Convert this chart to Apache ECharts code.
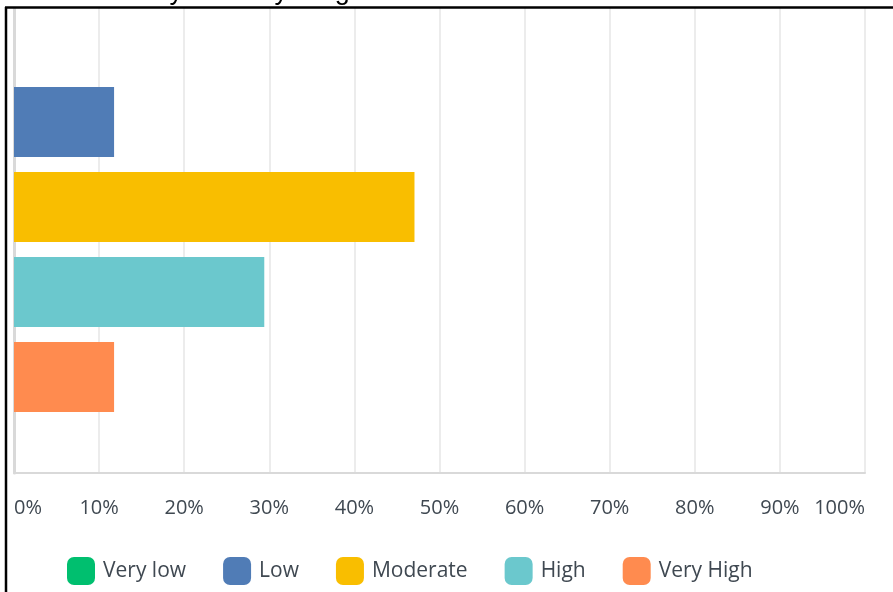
<!DOCTYPE html>
<html>
<head>
<meta charset="utf-8">
<script src="https://cdn.jsdelivr.net/npm/echarts@6/dist/echarts.min.js"></script>
<style>
html,body{margin:0;padding:0;background:#fff;}
#chart{width:893px;height:592px;}
</style>
</head>
<body>
<div id="chart"></div>
<script>
const categories = ['Very low', 'Low', 'Moderate', 'High', 'Very High'];
const values = [0, 11.76, 47.06, 29.41, 11.76];
const colors = ['#00BF6F', '#507CB6', '#F9BE00', '#6BC8CD', '#FF8B4F'];
const tickLabels = ['0%', '10%', '20%', '30%', '40%', '50%', '60%', '70%', '80%', '90%', '100%'];
const questionText = 'How would you rate your general level of stress?';

const chart = echarts.init(document.getElementById('chart'));
const series = categories.map((name, i) => ({
  name: name,
  type: 'bar',
  data: [values[i]],
  barWidth: 70,
  barGap: '21.43%',
  itemStyle: { color: colors[i] },
  emphasis: { disabled: true },
  animation: false
}));

chart.setOption({
  animation: false,
  grid: { left: 14, right: 28, top: -59, bottom: 119, containLabel: false, outerBoundsMode: 'none' },
  xAxis: {
    type: 'value', min: 0, max: 100, interval: 10,
    axisLine: { show: true, lineStyle: { color: '#d9d9d9', width: 2 } },
    axisTick: { show: false },
    splitLine: { show: true, lineStyle: { color: '#e6e6e6', width: 1.5 } },
    axisLabel: {
      formatter: v => tickLabels[Math.round(v / 10)],
      color: '#3f4851', fontSize: 20, fontFamily: 'Open Sans', margin: 25,
      alignMinLabel: 'left', alignMaxLabel: 'right'
    }
  },
  yAxis: {
    type: 'category', data: [''], inverse: true,
    axisLine: { show: true, lineStyle: { color: '#d9d9d9', width: 3 } },
    axisTick: { show: false }, axisLabel: { show: false }
  },
  legend: {
    data: categories, left: 67, top: 557, padding: 0,
    icon: 'roundRect', itemWidth: 28, itemHeight: 28, itemGap: 37,
    textStyle: { color: '#3f4851', fontSize: 21, fontFamily: 'Open Sans', padding: [0, 0, 0, 3] },
    selectedMode: false
  },
  series: series,
  graphic: [
    { type: 'rect', shape: { x: 0, y: 0, width: 893, height: 7 }, style: { fill: '#fff' }, z: 100 },
    { type: 'text', left: 30, top: -22, z: 101,
      style: { text: questionText, font: '27px Arial', fill: '#000' } },
    { type: 'line', shape: { x1: 5, y1: 7.5, x2: 893, y2: 7.5 }, style: { stroke: '#000', lineWidth: 2.5 }, z: 102 },
    { type: 'line', shape: { x1: 6, y1: 7, x2: 6, y2: 592 }, style: { stroke: '#000', lineWidth: 2.5 }, z: 102 }
  ]
});
</script>
</body>
</html>
